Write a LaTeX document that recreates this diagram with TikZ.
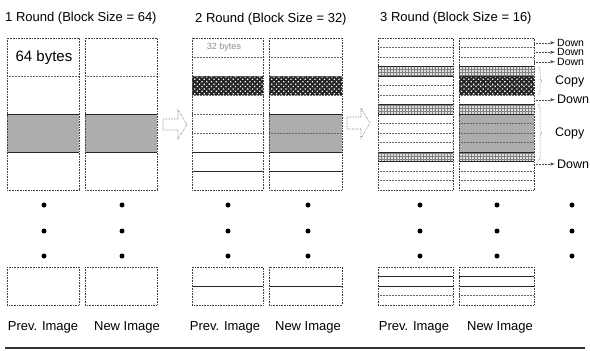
\documentclass[tikz,border=0pt]{standalone}
\usepackage{fontspec}
\setmainfont{Liberation Sans}
\usetikzlibrary{patterns,patterns.meta,decorations.pathreplacing}

\tikzset{
  colbox/.style={draw=black!75, densely dotted, line width=0.6pt},
  sepline/.style={draw=black!60, densely dotted, line width=0.5pt},
  boldline/.style={draw=black!85, line width=1pt},
  grayfill/.style={fill=black!32},
  checkfill/.style={fill=black!85, postaction={pattern={Dots[distance=3.4pt, radius=0.9pt, angle=45]}, pattern color=white}},
  gridfill/.style={fill=black!12, postaction={pattern=grid, pattern color=black!50}},
  headline/.style={anchor=west, inner sep=0pt, font=\fontsize{13}{15}\selectfont},
  caption/.style={inner sep=0pt, font=\fontsize{13}{15}\selectfont},
  note/.style={anchor=west, inner sep=0pt, font=\fontsize{12.5}{13}\selectfont},
  tightnote/.style={note, font=\fontsize{10.5}{11}\selectfont},
  leader/.style={draw=black!70, densely dotted, line width=0.5pt, -latex, shorten >=2pt},
  copybrace/.style={draw=black!70, densely dotted, line width=0.5pt,
    decorate, decoration={brace, amplitude=4pt}},
  blockarr/.style={draw=black!60, densely dotted, line width=0.6pt},
  bigdot/.style={fill=black, circle, inner sep=0pt, minimum size=5pt}
}

\begin{document}
\begin{tikzpicture}[x=1pt, y=-1pt]
\useasboundingbox (0,0) rectangle (590,351);

% Titles
\node[headline] (title1) at (5,18) {1 Round (Block Size = 64)};
\node[headline] (title2) at (195,19) {2 Round (Block Size = 32)};
\node[headline] (title3) at (380,18) {3 Round (Block Size = 16)};

% Round 1 (four 64 byte blocks)
\fill[grayfill] (7,114) rectangle (79,152);
\fill[grayfill] (85,114) rectangle (157,152);
\draw[sepline] (7,76) -- (79,76);
\draw[sepline] (85,76) -- (157,76);
\foreach \y in {114,152} {
  \draw[boldline] (7,\y) -- (79,\y);
  \draw[boldline] (85,\y) -- (157,\y);
}
\draw[colbox] (7,38) rectangle (79,190);
\draw[colbox] (85,38) rectangle (157,190);
\node[caption, font=\fontsize{15}{17}\selectfont] (bytes64) at (44,58) {64 bytes};

% Arrow to round 2
\draw[blockarr] (163,119) -- (178,119) -- (178,110) -- (187,124.5) -- (178,139)
  -- (178,130) -- (163,130) -- cycle;

% Round 2 (eight 32 byte blocks)
\fill[checkfill] (192,76) rectangle (263,95);
\fill[checkfill] (269,76) rectangle (342,95);
\fill[grayfill] (269,114) rectangle (342,152);
\foreach \y in {57,76,95,114,133} {
  \draw[sepline] (192,\y) -- (263,\y);
}
\foreach \y in {57,76,95,133} {
  \draw[sepline] (269,\y) -- (342,\y);
}
\foreach \y in {152,171} {
  \draw[boldline] (192,\y) -- (263,\y);
  \draw[boldline] (269,\y) -- (342,\y);
}
\draw[boldline] (269,114) -- (342,114);
\draw[colbox] (192,38) rectangle (263,190);
\draw[colbox] (269,38) rectangle (342,190);
\node[caption, text=black!45, font=\fontsize{9}{10}\selectfont] (bytes32) at (224,47) {32 bytes};

% Arrow to round 3
\draw[blockarr] (347,117) -- (361,117) -- (361,108) -- (370,123) -- (361,138)
  -- (361,129) -- (347,129) -- cycle;

% Round 3 (sixteen 16 byte blocks)
\foreach \r in {3,7,12} {
  \fill[gridfill] (378,38+9.5*\r) rectangle (453,47.5+9.5*\r);
  \fill[gridfill] (459,38+9.5*\r) rectangle (534,47.5+9.5*\r);
}
\fill[checkfill] (459,76) rectangle (534,95);
\fill[grayfill] (459,114) rectangle (534,152);
\foreach \r in {1,2,...,15} {
  \draw[sepline] (378,38+9.5*\r) -- (453,38+9.5*\r);
  \draw[sepline] (459,38+9.5*\r) -- (534,38+9.5*\r);
}
\foreach \y in {66.5,76,104.5,114,152,161.5} {
  \draw[boldline] (378,\y) -- (453,\y);
  \draw[boldline] (459,\y) -- (534,\y);
}
\draw[colbox] (378,38) rectangle (453,190);
\draw[colbox] (459,38) rectangle (534,190);

% Down / Copy notes
\coordinate (from1) at (534,42.75);
\coordinate (from2) at (534,52.25);
\coordinate (from3) at (534,61.75);
\coordinate (from4) at (534,99.75);
\coordinate (from5) at (534,164);
\node[tightnote] (down1) at (557,42.75) {Down};
\node[tightnote] (down2) at (557,52.25) {Down};
\node[tightnote] (down3) at (557,61.75) {Down};
\node[note] (down4) at (557,99.75) {Down};
\node[note] (down5) at (557,164) {Down};
\foreach \i in {1,...,5} {
  \draw[leader] (from\i) -- (down\i.west);
}
\draw[copybrace] (538,66.5) -- (538,95);
\node[note] (copy1) at (555,81) {Copy};
\draw[copybrace] (538,104.5) -- (538,161.5);
\node[note] (copy2) at (555,133) {Copy};

% Dots
\foreach \x in {44,122,228,308,420,497,572} {
  \foreach \y in {205,231,256} {
    \node[bigdot] at (\x,\y) {};
  }
}

% Last blocks
\draw[colbox] (7,267) rectangle (79,305);
\draw[colbox] (85,267) rectangle (157,305);
\draw[boldline] (192,286) -- (263,286);
\draw[boldline] (269,286) -- (342,286);
\draw[colbox] (192,267) rectangle (263,305);
\draw[colbox] (269,267) rectangle (342,305);
\foreach \y in {276.5,286} {
  \draw[boldline] (378,\y) -- (453,\y);
  \draw[boldline] (459,\y) -- (534,\y);
}
\draw[sepline] (378,295.5) -- (453,295.5);
\draw[sepline] (459,295.5) -- (534,295.5);
\draw[colbox] (378,267) rectangle (453,305);
\draw[colbox] (459,267) rectangle (534,305);

% Labels
\node[caption] (prev1) at (43,327) {Prev. Image};
\node[caption] (new1) at (127,327) {New Image};
\node[caption] (prev2) at (225,327) {Prev. Image};
\node[caption] (new2) at (308,327) {New Image};
\node[caption] (prev3) at (414,327) {Prev. Image};
\node[caption] (new3) at (500,327) {New Image};

% Bottom rule
\draw[black!80, line width=1.2pt] (5,348) -- (585,348);
\end{tikzpicture}
\end{document}
